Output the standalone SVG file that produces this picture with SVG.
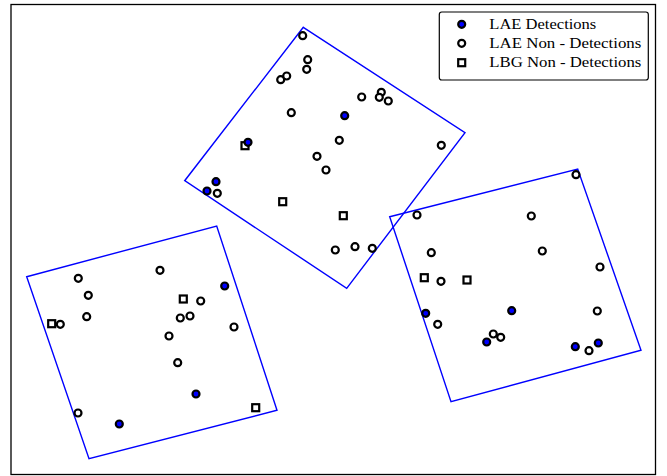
<svg xmlns="http://www.w3.org/2000/svg" width="667" height="476" viewBox="0 0 667 476">
<style>
.field{fill:none;stroke:#0000ff;stroke-width:1.4;stroke-linejoin:miter}
.det{fill:#0000ff;stroke:#000;stroke-width:2.2}
.non{fill:#fff;stroke:#000;stroke-width:2.2}
.lbg{fill:#fff;stroke:#000;stroke-width:2.2}
.lt{font-family:"Liberation Serif","DejaVu Serif",serif;font-size:14px;fill:#000}
</style>
<defs>
<circle id="cd" r="3.5" class="det"/>
<circle id="cn" r="3.5" class="non"/>
<rect id="sq" x="-3.5" y="-3.5" width="7" height="7" class="lbg"/>
</defs>
<rect x="0" y="0" width="667" height="476" fill="#fff"/>
<rect x="11" y="4.5" width="644.5" height="470" fill="none" stroke="#000" stroke-width="1.3"/>
<g id="fields">
<polygon id="field-top" class="field" points="303.3,27.3 465,132.7 346.7,288.3 184.7,180.7"/>
<polygon id="field-left" class="field" points="26.7,276.7 216.7,226 277,410.3 89,458.7"/>
<polygon id="field-right" class="field" points="389.7,216.7 577.7,169 641,350.3 451,401.7"/>
</g>
<g id="lbg-nondetections">
<use href="#sq" x="245" y="145.7"/>
<use href="#sq" x="282.7" y="201.7"/>
<use href="#sq" x="343.3" y="215.7"/>
<use href="#sq" x="183.3" y="299"/>
<use href="#sq" x="51.7" y="323.7"/>
<use href="#sq" x="255.7" y="407.7"/>
<use href="#sq" x="424.3" y="277.7"/>
<use href="#sq" x="467" y="280"/>
</g>
<g id="lae-detections">
<use href="#cd" x="344.7" y="115.7"/>
<use href="#cd" x="248" y="142.3"/>
<use href="#cd" x="216" y="181.7"/>
<use href="#cd" x="207" y="191"/>
<use href="#cd" x="224.7" y="286"/>
<use href="#cd" x="196" y="394"/>
<use href="#cd" x="119.3" y="424"/>
<use href="#cd" x="425.7" y="313.3"/>
<use href="#cd" x="511.7" y="310.7"/>
<use href="#cd" x="486.7" y="342"/>
<use href="#cd" x="575.3" y="346.7"/>
<use href="#cd" x="598.3" y="343"/>
</g>
<g id="lae-nondetections">
<use href="#cn" x="302.7" y="35.7"/>
<use href="#cn" x="307.7" y="59.7"/>
<use href="#cn" x="306.7" y="69.3"/>
<use href="#cn" x="280.7" y="79.7"/>
<use href="#cn" x="286.7" y="76"/>
<use href="#cn" x="361.7" y="97"/>
<use href="#cn" x="381.3" y="92.3"/>
<use href="#cn" x="379.3" y="97.3"/>
<use href="#cn" x="388.3" y="101"/>
<use href="#cn" x="291.3" y="112.7"/>
<use href="#cn" x="339.3" y="140.3"/>
<use href="#cn" x="441.3" y="145.3"/>
<use href="#cn" x="317" y="156.3"/>
<use href="#cn" x="326" y="170"/>
<use href="#cn" x="217.3" y="193.3"/>
<use href="#cn" x="335.3" y="250"/>
<use href="#cn" x="355" y="246.7"/>
<use href="#cn" x="372.3" y="248.3"/>
<use href="#cn" x="78.3" y="278.3"/>
<use href="#cn" x="160" y="270.3"/>
<use href="#cn" x="88.3" y="295.3"/>
<use href="#cn" x="200.7" y="301"/>
<use href="#cn" x="86.7" y="316.7"/>
<use href="#cn" x="60.3" y="324.3"/>
<use href="#cn" x="180.3" y="318"/>
<use href="#cn" x="190" y="316"/>
<use href="#cn" x="234" y="327"/>
<use href="#cn" x="169" y="336"/>
<use href="#cn" x="177.7" y="362.7"/>
<use href="#cn" x="78" y="413"/>
<use href="#cn" x="576" y="174.7"/>
<use href="#cn" x="417" y="215"/>
<use href="#cn" x="531.3" y="216"/>
<use href="#cn" x="431.3" y="252.7"/>
<use href="#cn" x="542.3" y="251"/>
<use href="#cn" x="600" y="267"/>
<use href="#cn" x="441" y="281.3"/>
<use href="#cn" x="597.3" y="311"/>
<use href="#cn" x="437.7" y="324.3"/>
<use href="#cn" x="493.3" y="334"/>
<use href="#cn" x="500.7" y="337.3"/>
<use href="#cn" x="589" y="350.7"/>
</g>
<g id="legend">
<rect x="439.3" y="12" width="209" height="68" rx="2.5" ry="2.5" fill="#fff" stroke="#000" stroke-width="1.2"/>
<use href="#cd" x="461.7" y="24.3"/>
<use href="#cn" x="461.7" y="43.3"/>
<use href="#sq" x="461.7" y="62.7"/>
<text class="lt" x="489.3" y="28.5" textLength="107" lengthAdjust="spacingAndGlyphs">LAE Detections</text>
<text class="lt" x="489.3" y="47.5" textLength="152" lengthAdjust="spacingAndGlyphs">LAE Non - Detections</text>
<text class="lt" x="489.3" y="67" textLength="152" lengthAdjust="spacingAndGlyphs">LBG Non - Detections</text>
</g>
</svg>
